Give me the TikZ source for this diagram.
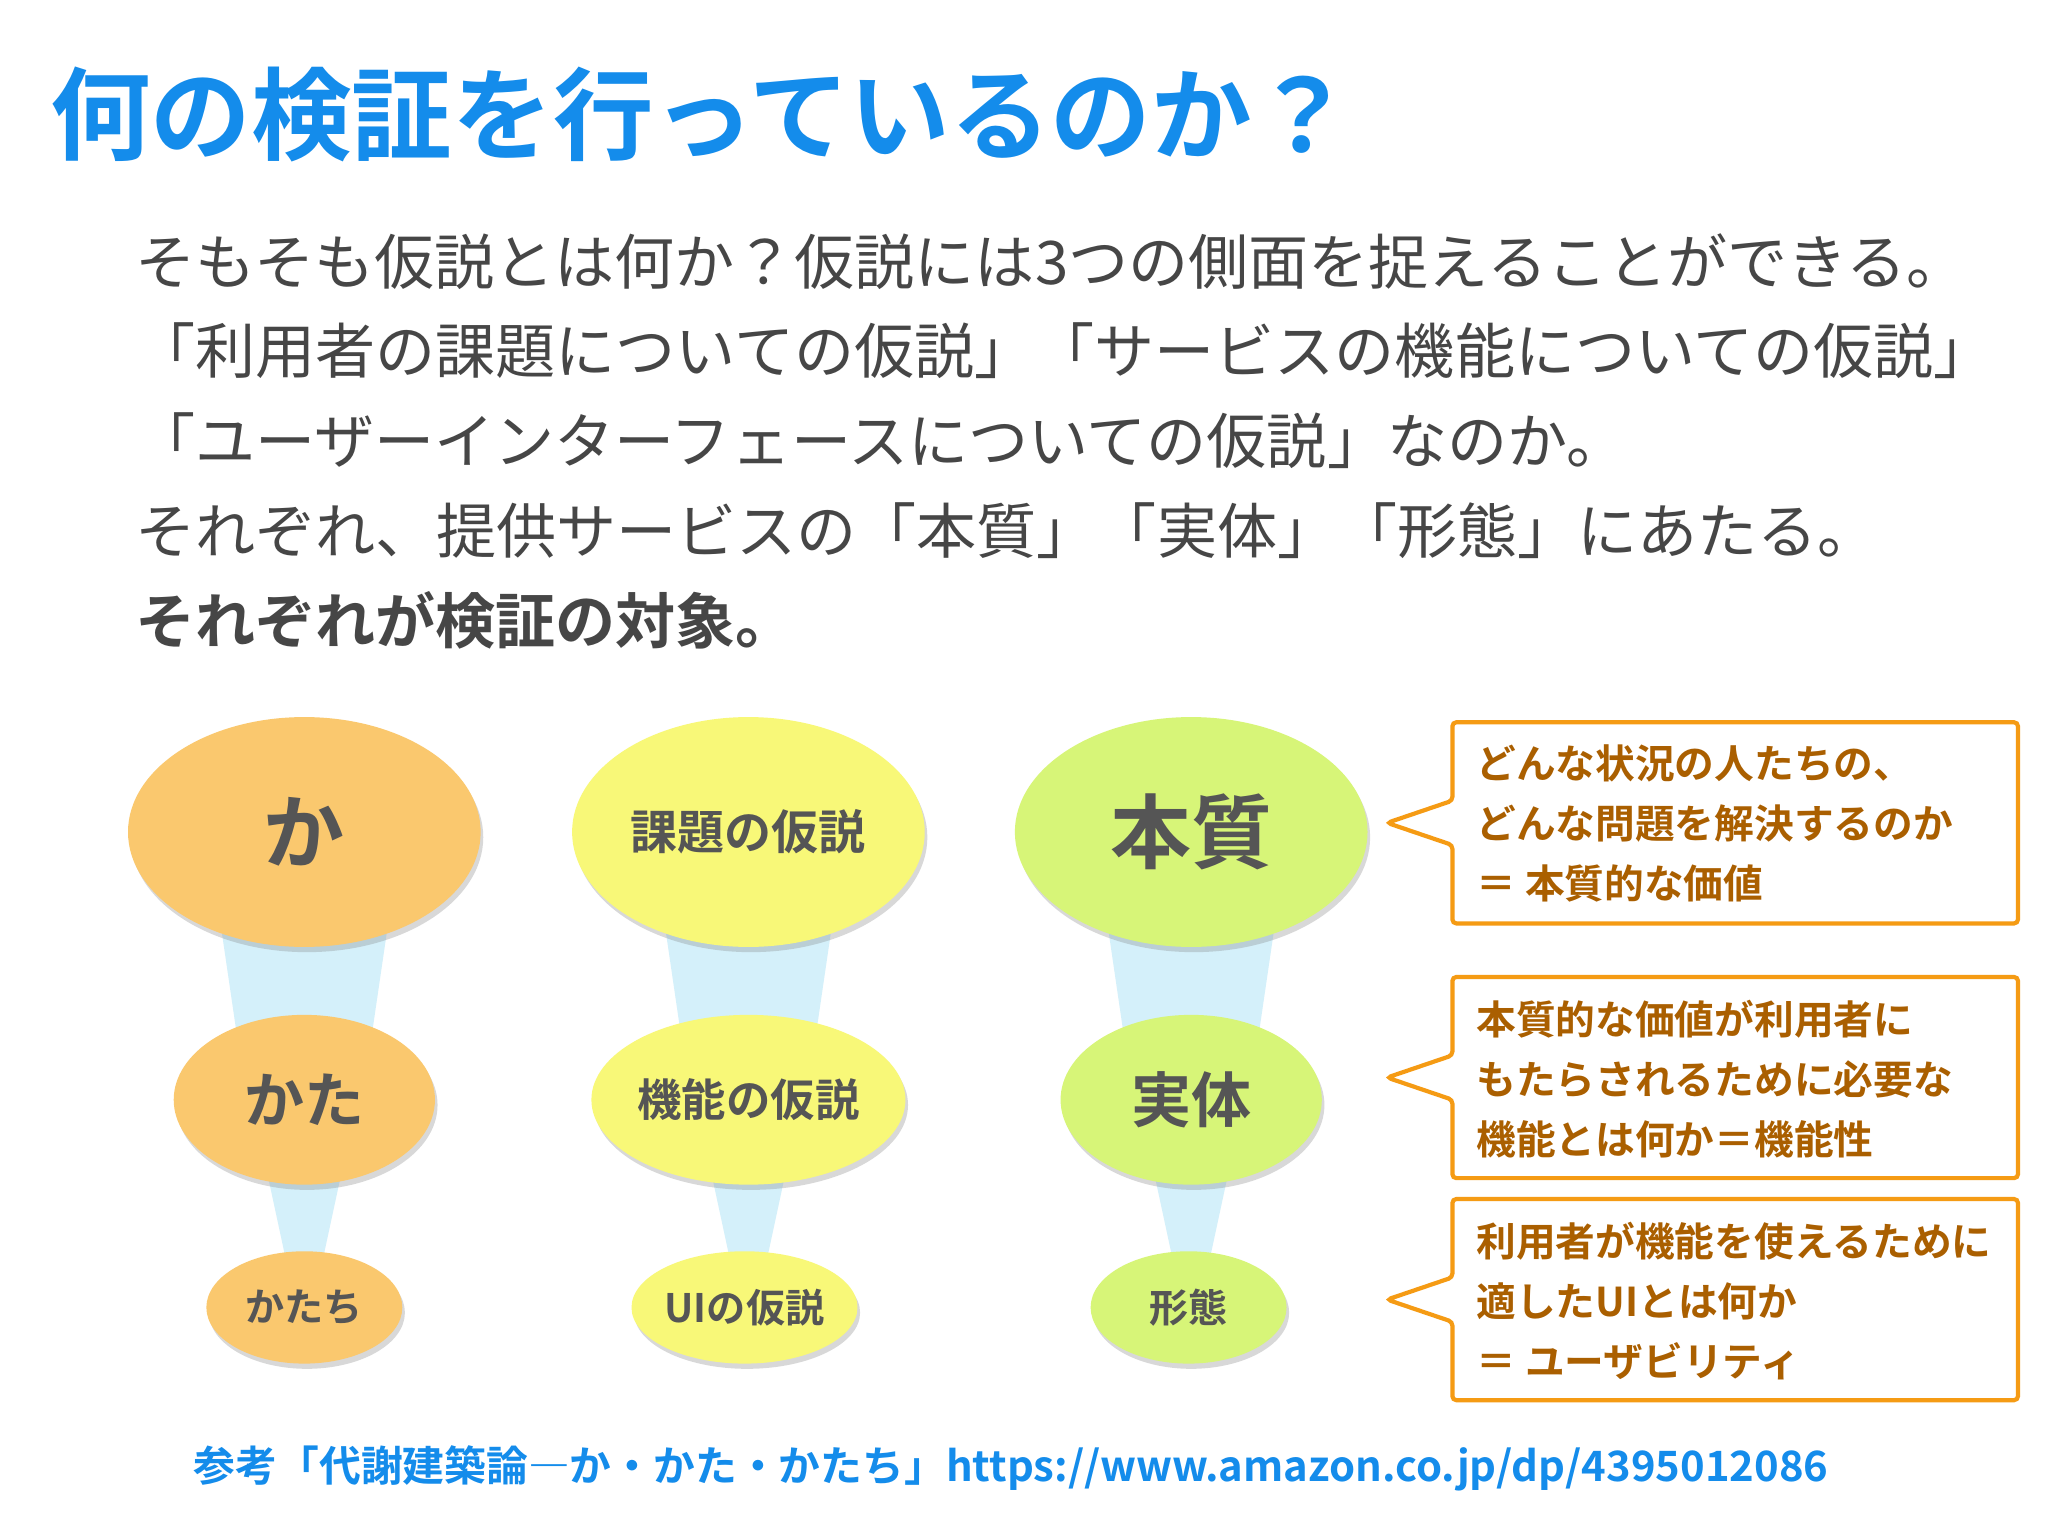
\documentclass[tikz,border=0pt]{standalone}
\usepackage{fontspec}
\setmainfont{Noto Sans CJK JP}
\newfontfamily\jpb{Noto Sans CJK JP Bold}
\usetikzlibrary{shapes.geometric,shadows}
\definecolor{ttl}{RGB}{20,140,235}
\definecolor{bodyc}{RGB}{70,70,70}
\definecolor{orng}{RGB}{250,200,110}
\definecolor{yel}{RGB}{248,248,120}
\definecolor{grn}{RGB}{215,245,120}
\definecolor{cone}{RGB}{212,240,250}
\definecolor{obox}{RGB}{245,155,20}
\definecolor{otxt}{RGB}{170,95,0}
\definecolor{etxt}{RGB}{85,85,85}
\tikzset{
 bub/.style={ellipse,inner sep=0pt,text=etxt,font=\jpb,drop shadow={shadow xshift=1pt,shadow yshift=-2pt,opacity=0.3}},
 bodyline/.style={anchor=base west,text=bodyc,font=\fontsize{23}{26}\selectfont,inner sep=0pt},
 ctext/.style={anchor=north west,text=otxt,font=\jpb\fontsize{15.2}{23}\selectfont,align=left,inner sep=0pt},
 callout/.style={draw=obox,line width=1.6pt,fill=white,rounded corners=1.5pt}
}
\begin{document}
\begin{tikzpicture}[x=0.5pt,y=-0.5pt]
\useasboundingbox (0,0) rectangle (1568,1176);
\fill[white] (0,0) rectangle (1568,1176);
\node[anchor=base west,text=ttl,font=\jpb\fontsize{38.5}{40}\selectfont,inner sep=0pt] (title) at (38,117) {何の検証を行っているのか？};
\node[bodyline] (l1) at (103,218) {そもそも仮説とは何か？仮説には3つの側面を捉えることができる。};
\node[bodyline] (l2) at (103,286) {「利用者の課題についての仮説」「サービスの機能についての仮説」};
\node[bodyline] (l3) at (103,355) {「ユーザーインターフェースについての仮説」なのか。};
\node[bodyline] (l4) at (103,424) {それぞれ、提供サービスの「本質」「実体」「形態」にあたる。};
\node[bodyline,font=\jpb\fontsize{23}{26}\selectfont] (l5) at (103,493) {それぞれが検証の対象。};
% cones
\foreach \cx in {233,573,912}{
 \fill[cone] (\cx-63,715) -- (\cx+63,715) -- (\cx+52,790) -- (\cx-52,790) -- cycle;
 \fill[cone] (\cx-28,900) -- (\cx+28,900) -- (\cx+14,965) -- (\cx-14,965) -- cycle;
}
\node[bub,fill=orng,minimum width=135pt,minimum height=88pt,font=\jpb\fontsize{31}{32}\selectfont] (ka) at (233,637) {か};
\node[bub,fill=yel,minimum width=135pt,minimum height=88pt,font=\jpb\fontsize{18}{20}\selectfont] (kadai) at (573,637) {課題の仮説};
\node[bub,fill=grn,minimum width=135pt,minimum height=88pt,font=\jpb\fontsize{31}{32}\selectfont] (honshitsu) at (912,637) {本質};
\node[bub,fill=orng,minimum width=100pt,minimum height=65pt,font=\jpb\fontsize{23}{26}\selectfont] (kata) at (233,842) {かた};
\node[bub,fill=yel,minimum width=100pt,minimum height=65pt,font=\jpb\fontsize{17}{20}\selectfont] (kino) at (573,842) {機能の仮説};
\node[bub,fill=grn,minimum width=100pt,minimum height=65pt,font=\jpb\fontsize{23}{26}\selectfont] (jittai) at (912,842) {実体};
\node[bub,fill=orng,minimum width=75pt,minimum height=43pt,font=\jpb\fontsize{15}{16}\selectfont] (katachi) at (233,1001) {かたち};
\node[bub,fill=yel,minimum width=75pt,minimum height=43pt,font=\jpb\fontsize{15}{16}\selectfont] (ui) at (570,1001) {UIの仮説};
\node[bub,fill=grn,minimum width=75pt,minimum height=43pt,font=\jpb\fontsize{15}{16}\selectfont] (keitai) at (910,1001) {形態};
% callouts
\foreach \yt/\yb in {553/707,748/902,918/1072}{
 \pgfmathsetmacro{\ym}{(\yt+\yb)/2}
 \draw[callout] (1112,\yt) -- (1545,\yt) -- (1545,\yb) -- (1112,\yb) -- (1112,\ym+17) -- (1062,\ym) -- (1112,\ym-17) -- cycle;
}
\node[ctext] (c1) at (1130,570) {どんな状況の人たちの、\\どんな問題を解決するのか\\ ＝ 本質的な価値};
\node[ctext] (c2) at (1130,765) {本質的な価値が利用者に\\もたらされるために必要な\\機能とは何か＝機能性};
\node[ctext] (c3) at (1130,935) {利用者が機能を使えるために\\適したUIとは何か\\ ＝ ユーザビリティ};
\node[anchor=base west,text=ttl,font=\jpb\fontsize{16}{18}\selectfont,inner sep=0pt] (ref) at (148,1134) {参考「代謝建築論―か・かた・かたち」https://www.amazon.co.jp/dp/4395012086};
\end{tikzpicture}
\end{document}
